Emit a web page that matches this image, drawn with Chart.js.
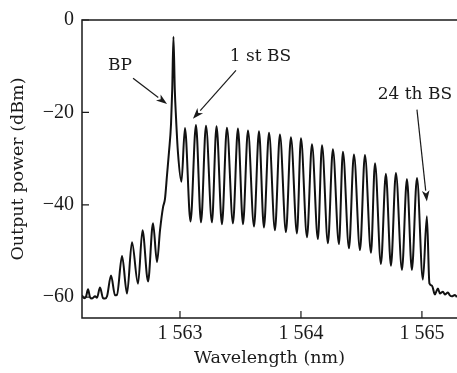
<!DOCTYPE html>
<html>
<head>
<meta charset="utf-8">
<title>Output spectrum</title>
<script src="https://cdn.jsdelivr.net/npm/chart.js@4.4.0/dist/chart.umd.min.js"></script>
<style>
  body { margin: 0; background: #fff; }
  #myChart { display: block; }
</style>
</head>
<body>
<canvas id="myChart" width="457" height="373"></canvas>
<script>
// Espectro: comprimento de onda (nm) e potência (dBm)
var comprimentos = [
  1562.190, 1562.207, 1562.223, 1562.240, 1562.256, 1562.273, 1562.298, 1562.314,
  1562.339, 1562.364, 1562.380, 1562.397, 1562.430, 1562.463, 1562.479, 1562.521,
  1562.562, 1562.603, 1562.653, 1562.690, 1562.736, 1562.777, 1562.810, 1562.835,
  1562.860, 1562.876, 1562.893, 1562.909, 1562.926, 1562.936, 1562.946, 1562.957,
  1562.967, 1562.983, 1563.012,
  1563.041, 1563.087, 1563.132, 1563.174, 1563.215, 1563.264, 1563.302, 1563.347,
  1563.388, 1563.438, 1563.479, 1563.521, 1563.562, 1563.612, 1563.653, 1563.694,
  1563.736, 1563.785, 1563.826, 1563.876, 1563.917, 1563.967, 1564.000, 1564.050,
  1564.091, 1564.140, 1564.174, 1564.223, 1564.264, 1564.314, 1564.347, 1564.397,
  1564.438, 1564.488, 1564.529, 1564.579, 1564.612, 1564.661, 1564.702, 1564.744,
  1564.785, 1564.835, 1564.876, 1564.917, 1564.959, 1565.008, 1565.041,
  1565.062, 1565.083, 1565.107, 1565.132, 1565.149, 1565.174, 1565.190, 1565.215,
  1565.231, 1565.248, 1565.273, 1565.289
];
var potencias = [
  -59.6, -60.2, -59.9, -58.3, -60.0, -60.3, -59.8, -60.1,
  -57.9, -60.2, -60.3, -59.8, -55.3, -59.6, -59.5, -51.1,
  -59.2, -48.1, -57.1, -45.5, -56.6, -44.0, -52.4, -45.5,
  -40.5, -38.7, -33.5, -28.6, -22.5, -15.0, -3.6, -15.0,
  -21.0, -28.6, -35.0,
  -23.4, -43.6, -22.7, -43.8, -22.9, -43.8, -23.0, -44.2,
  -23.3, -44.0, -23.5, -44.2, -23.9, -44.7, -24.1, -44.9,
  -24.4, -45.5, -24.8, -45.9, -25.4, -46.2, -25.6, -47.0,
  -26.9, -47.4, -27.1, -48.3, -28.0, -48.5, -28.5, -49.4,
  -29.1, -49.8, -29.2, -50.4, -31.0, -52.8, -33.3, -53.2,
  -33.1, -54.1, -34.4, -54.1, -34.2, -56.2, -42.5,
  -57.0, -57.5, -59.4, -58.1, -59.2, -58.8, -59.4, -59.0,
  -59.6, -59.8, -59.5, -60.0
];

var ticksX = [1563, 1564, 1565];
var rotulosX = ['1 563', '1 564', '1 565'];
var ticksY = [0, -20, -40, -60];
var rotulosY = ['0', '\u221220', '\u221240', '\u221260'];

// Anotações: texto, centro do texto e seta (em nm / dBm)
var anotacoesTexto = ['BP', '1 st BS', '24 th BS'];
var anotacoesPos = [[1562.504, -9.8], [1563.665, -8.0], [1564.942, -16.2]];
var setasInicio = [[1562.612, -12.6], [1563.463, -10.9], [1564.959, -19.4]];
var setasFim = [[1562.893, -18.2], [1563.107, -21.4], [1565.041, -39.3]];

var pontos = comprimentos.map(function (x, i) {
  return { x: x, y: potencias[i] };
});

// Moldura, marcas internas e setas
var molduraPlugin = {
  id: 'moldura',
  afterDraw: function (chart) {
    var ctx = chart.ctx;
    var area = chart.chartArea;
    var sx = chart.scales.x;
    var sy = chart.scales.y;
    ctx.save();
    ctx.strokeStyle = '#1a1a1a';
    ctx.lineWidth = 1.5;
    ctx.beginPath();
    ctx.moveTo(area.right + 2, area.top);
    ctx.lineTo(area.left, area.top);
    ctx.lineTo(area.left, area.bottom);
    ctx.lineTo(area.right + 2, area.bottom);
    ctx.stroke();

    ctx.lineWidth = 1.2;
    ctx.beginPath();
    ticksX.forEach(function (v) {
      var px = sx.getPixelForValue(v);
      ctx.moveTo(px, area.bottom);
      ctx.lineTo(px, area.bottom - 7);
    });
    ticksY.forEach(function (v) {
      var py = sy.getPixelForValue(v);
      ctx.moveTo(area.left, py);
      ctx.lineTo(area.left + 7, py);
    });
    ctx.stroke();

    ctx.fillStyle = '#1a1a1a';
    ctx.font = '17px "DejaVu Serif"';
    ctx.textAlign = 'center';
    ctx.textBaseline = 'middle';
    anotacoesTexto.forEach(function (t, i) {
      ctx.fillText(t, sx.getPixelForValue(anotacoesPos[i][0]), sy.getPixelForValue(anotacoesPos[i][1]));

      var x0 = sx.getPixelForValue(setasInicio[i][0]);
      var y0 = sy.getPixelForValue(setasInicio[i][1]);
      var x1 = sx.getPixelForValue(setasFim[i][0]);
      var y1 = sy.getPixelForValue(setasFim[i][1]);
      var ang = Math.atan2(y1 - y0, x1 - x0);
      var len = 11;
      var bx = x1 - len * Math.cos(ang);
      var by = y1 - len * Math.sin(ang);
      ctx.lineWidth = 1.2;
      ctx.beginPath();
      ctx.moveTo(x0, y0);
      ctx.lineTo(bx, by);
      ctx.stroke();
      ctx.beginPath();
      ctx.moveTo(x1, y1);
      ctx.lineTo(bx + 3.8 * Math.sin(ang), by - 3.8 * Math.cos(ang));
      ctx.lineTo(bx + 3 * Math.cos(ang), by + 3 * Math.sin(ang));
      ctx.lineTo(bx - 3.8 * Math.sin(ang), by + 3.8 * Math.cos(ang));
      ctx.closePath();
      ctx.fill();
    });
    ctx.restore();
  }
};

var config = {
  type: 'line',
  data: {
    datasets: [{
      data: pontos,
      borderColor: '#111',
      borderWidth: 2,
      pointRadius: 0,
      fill: false,
      cubicInterpolationMode: 'monotone'
    }]
  },
  options: {
    responsive: false,
    animation: false,
    devicePixelRatio: 1,
    layout: { padding: { top: 16, right: 0, left: 0, bottom: 0 } },
    plugins: { legend: { display: false }, tooltip: { enabled: false } },
    scales: {
      x: {
        type: 'linear',
        min: 1562.19,
        max: 1565.29,
        afterBuildTicks: function (scale) {
          scale.ticks = ticksX.map(function (v) { return { value: v }; });
        },
        afterFit: function (scale) { scale.height = 55; },
        grid: { display: false, drawTicks: false },
        border: { display: false },
        ticks: {
          padding: 4,
          maxRotation: 0,
          color: '#1a1a1a',
          font: { family: '"Liberation Serif"', size: 20 },
          callback: function (value, index) { return rotulosX[index]; }
        },
        title: {
          display: true,
          text: 'Wavelength (nm)',
          color: '#1a1a1a',
          font: { family: '"DejaVu Serif"', size: 17.5 },
          padding: { top: 0, bottom: 4 }
        }
      },
      y: {
        min: -64.5,
        max: 0,
        afterBuildTicks: function (scale) {
          scale.ticks = ticksY.map(function (v) { return { value: v }; });
        },
        afterFit: function (scale) { scale.width = 82; },
        grid: { display: false, drawTicks: false },
        border: { display: false },
        ticks: {
          padding: 8,
          color: '#1a1a1a',
          font: { family: '"Liberation Serif"', size: 20 },
          callback: function (value, index) { return rotulosY[index]; }
        },
        title: {
          display: true,
          text: 'Output power (dBm)',
          color: '#1a1a1a',
          font: { family: '"DejaVu Serif"', size: 17.5 },
          padding: { top: 8, bottom: 0 }
        }
      }
    }
  },
  plugins: [molduraPlugin]
};

var myChart = new Chart(document.getElementById('myChart').getContext('2d'), config);
</script>
</body>
</html>
